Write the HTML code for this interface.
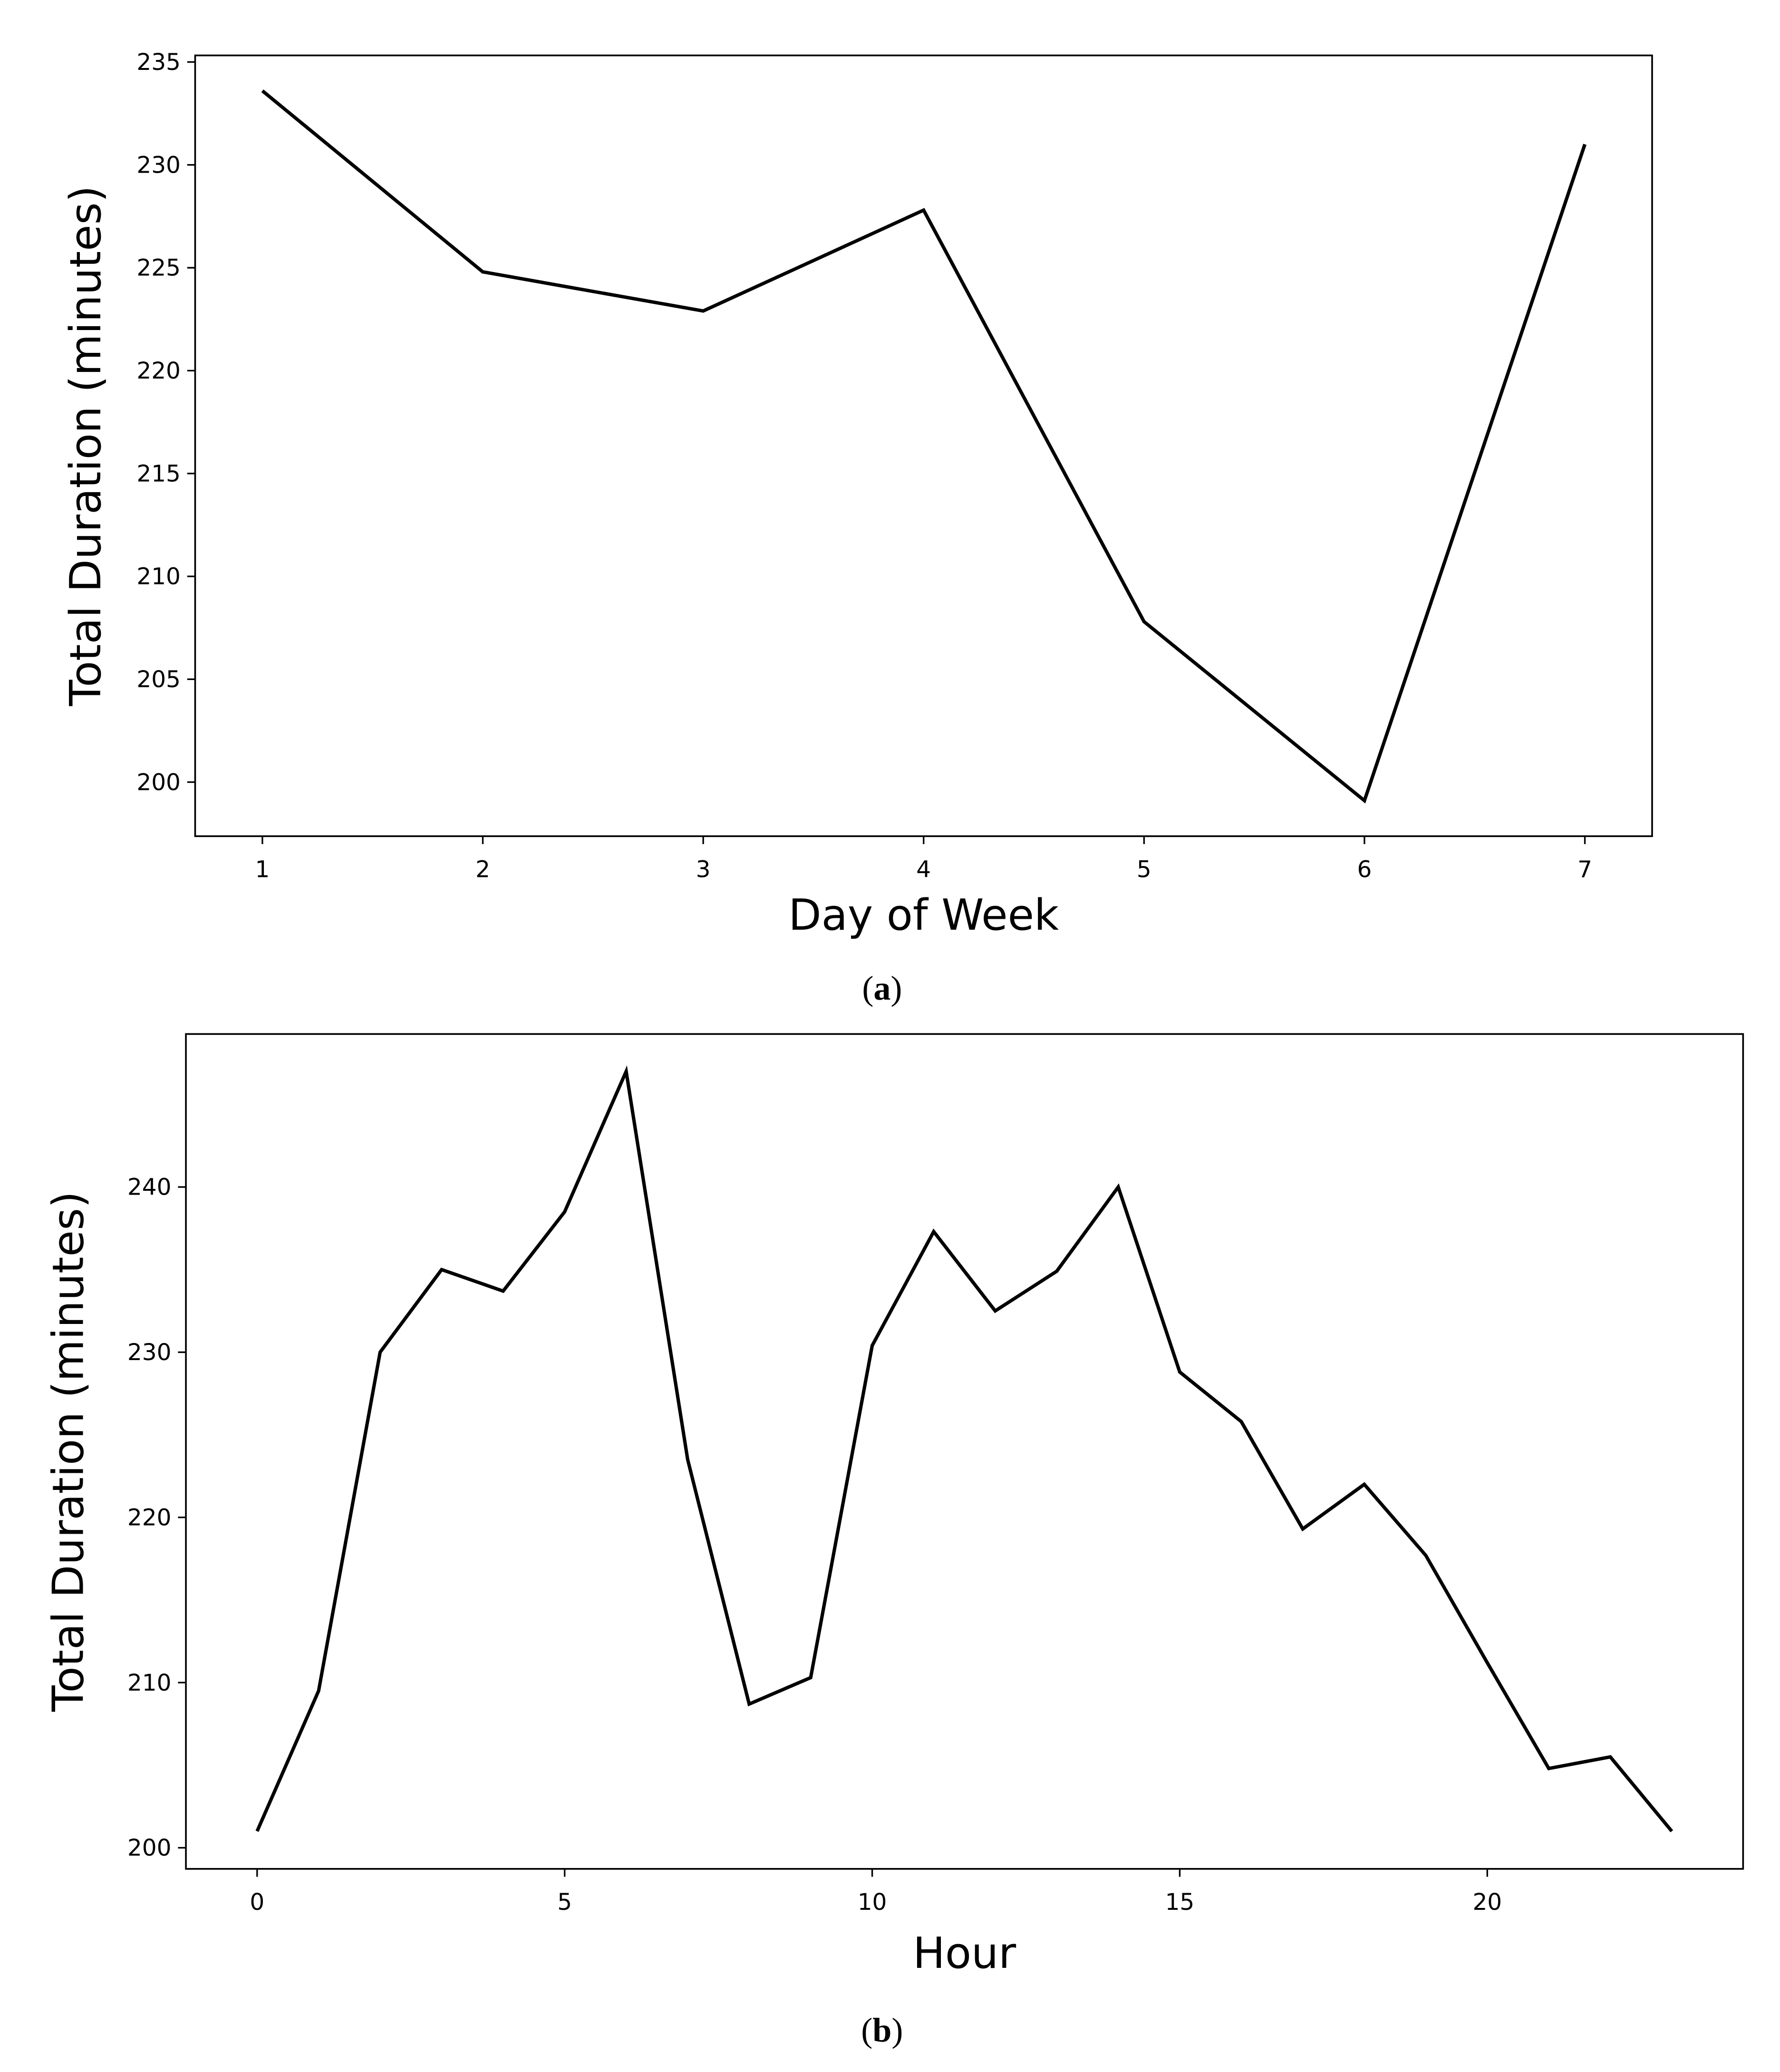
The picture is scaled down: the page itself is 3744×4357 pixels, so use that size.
<!DOCTYPE html>
<html><head><meta charset="utf-8"><style>
html,body{margin:0;padding:0;background:#fff}
svg{display:block}
text{font-family:"DejaVu Sans","Liberation Sans",sans-serif;fill:#000}
.cap{font-family:"Liberation Serif",serif}
</style></head><body>
<svg id="fig" width="3744" height="4357" viewBox="0 0 1350 1571">
<g id="ga"></g>
<g id="gb"></g>
<text class="cap" x="669" y="758" text-anchor="middle" font-size="26">(<tspan font-weight="bold">a</tspan>)</text>
<text class="cap" x="669" y="1548" text-anchor="middle" font-size="26">(<tspan font-weight="bold">b</tspan>)</text>
</svg>
<script>
const daysA = [1,2,3,4,5,6,7];
const valuesA = [233.6,224.8,222.9,227.8,207.8,199.1,231.0];
const xTicksA = [1,2,3,4,5,6,7];
const yTicksA = [200,205,210,215,220,225,230,235];
const hoursB = [0,1,2,3,4,5,6,7,8,9,10,11,12,13,14,15,16,17,18,19,20,21,22,23];
const valuesB = [201,209.5,230,235,233.7,238.5,247,223.5,208.7,210.3,230.4,237.3,232.5,234.9,240,228.8,225.8,219.3,222,217.7,211.2,204.8,205.5,201];
const xTicksB = [0,5,10,15,20];
const yTicksB = [200,210,220,230,240];

const NS="http://www.w3.org/2000/svg";
function mk(tag,attrs,parent){const e=document.createElementNS(NS,tag);for(const k in attrs)e.setAttribute(k,attrs[k]);parent.appendChild(e);return e;}

function draw(g,cfg){
  const {box,xs,ys,xv,yv,xt,yt,xtitle,ytitle,xtY,ytX,prefix}=cfg;
  const X=v=>xs[0][1]+(v-xs[0][0])*(xs[1][1]-xs[0][1])/(xs[1][0]-xs[0][0]);
  const Y=v=>ys[0][1]+(v-ys[0][0])*(ys[1][1]-ys[0][1])/(ys[1][0]-ys[0][0]);
  const frame=mk('rect',{x:box[0],y:box[1],width:box[2]-box[0],height:box[3]-box[1],fill:'none',stroke:'#000','stroke-width':1.3},g);
  
  
  xt.forEach(t=>{
    const l=mk('line',{x1:X(t),x2:X(t),y1:box[3],y2:box[3]+6,stroke:'#000','stroke-width':1.2},g);
    
    
    const tx=mk('text',{x:X(t),y:box[3]+31,'text-anchor':'middle','font-size':17.5},g);
    tx.textContent=t;
    
    
  });
  yt.forEach(t=>{
    const l=mk('line',{x1:box[0]-6,x2:box[0],y1:Y(t),y2:Y(t),stroke:'#000','stroke-width':1.2},g);
    
    
    const tx=mk('text',{x:box[0]-11,y:Y(t)+6,'text-anchor':'end','font-size':17.5},g);
    tx.textContent=t;
    
    
  });
  const pts=xv.map((v,i)=>X(v).toFixed(2)+','+Y(yv[i]).toFixed(2)).join(' ');
  const pl=mk('polyline',{points:pts,fill:'none',stroke:'#000','stroke-width':2.6,'stroke-linejoin':'miter'},g);
  
  
  const xtl=mk('text',{x:(box[0]+box[2])/2,y:xtY,'text-anchor':'middle','font-size':32.5},g);
  xtl.textContent=xtitle;
  
  
  const cy=(box[1]+box[3])/2;
  const ytl=mk('text',{x:ytX,y:cy,'text-anchor':'middle','font-size':32.5,transform:`rotate(-90 ${ytX} ${cy})`},g);
  ytl.textContent=ytitle;
  
  
}
draw(document.getElementById('ga'),{box:[148,42,1253,634],xs:[[1,199],[7,1202]],ys:[[200,593],[235,47]],
  xv:daysA,yv:valuesA,xt:xTicksA,yt:yTicksA,xtitle:'Day of Week',ytitle:'Total Duration (minutes)',xtY:705,ytX:76,prefix:'chart-a'});
draw(document.getElementById('gb'),{box:[141,784,1322,1417],xs:[[0,195],[20,1128]],ys:[[200,1401],[240,900]],
  xv:hoursB,yv:valuesB,xt:xTicksB,yt:yTicksB,xtitle:'Hour',ytitle:'Total Duration (minutes)',xtY:1492,ytX:63,prefix:'chart-b'});
</script>
</body></html>
